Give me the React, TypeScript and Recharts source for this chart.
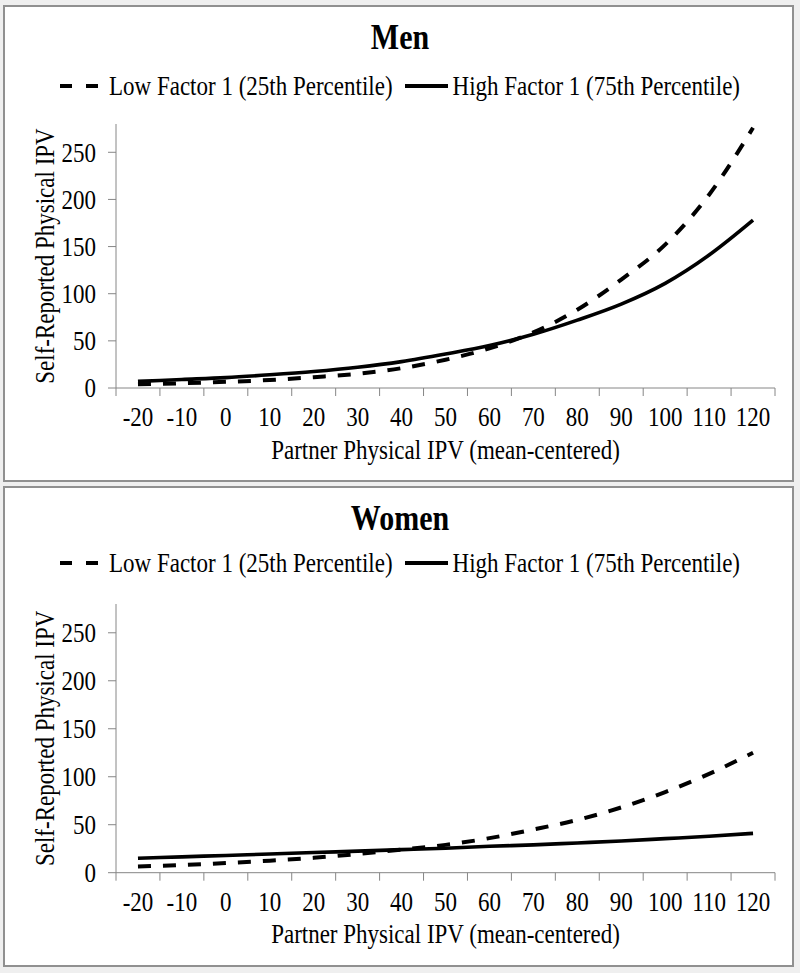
import { Label, Legend, Line, LineChart, XAxis, YAxis } from 'recharts'

const partnerIpv = [-20, -10, 0, 10, 20, 30, 40, 50, 60, 70, 80, 90, 100, 110, 120]
const menLow = [4, 5, 6.5, 8.5, 11.5, 15, 21, 30, 42, 59, 83, 115, 152, 205, 276]
const menHigh = [7, 9, 11, 14, 17.5, 22, 28, 36, 45, 57, 72, 89, 111, 141, 178]
const womenLow = [6.5, 8, 10, 12.5, 15.5, 19.5, 24, 29, 36, 45, 55, 68, 84, 103, 125]
const womenHigh = [15, 16.5, 18, 19.5, 21, 22.5, 24, 25.5, 27.5, 29, 31, 33, 35.5, 38, 41]
const yTicks = [0, 50, 100, 150, 200, 250]
const seriesNames = ['Low Factor 1 (25th Percentile)', 'High Factor 1 (75th Percentile)']

const FONT = '"Liberation Serif", "Times New Roman", serif'
const AXIS = '#868686'
const INK = '#000'
const FS = 23
// the source picture is stretched vertically, so glyphs are taller than wide
const SY = 1.22

// Excel puts the x tick marks between categories, labels at the centres
const step = partnerIpv[1] - partnerIpv[0]
const boundaries = [...partnerIpv.map((v) => v - step / 2), partnerIpv[partnerIpv.length - 1] + step / 2]
const xTicks = [...boundaries, ...partnerIpv].sort((a, b) => a - b)

function XTick(props: any) {
  const { x, y, payload } = props
  if (partnerIpv.includes(payload.value)) {
    return (
      <text transform={`translate(${x},${y + 18}) scale(1,${SY})`} textAnchor="middle" fill={INK} fontSize={FS} fontFamily={FONT}>
        {payload.value}
      </text>
    )
  }
  return <line x1={x} x2={x} y1={y - 20} y2={y - 12} stroke={AXIS} />
}

function YTick(props: any) {
  const { x, y, payload } = props
  return (
    <text transform={`translate(${x},${y + 0.33 * FS * SY}) scale(1,${SY})`} textAnchor="end" fill={INK} fontSize={FS} fontFamily={FONT}>
      {payload.value}
    </text>
  )
}

function LegendBox({ payload }: any) {
  const items = [...(payload || [])].sort((a: any, b: any) => seriesNames.indexOf(a.value) - seriesNames.indexOf(b.value))
  return (
    <div style={{ display: 'flex', justifyContent: 'center', alignItems: 'center', height: 30, fontFamily: FONT, fontSize: FS, color: INK }}>
      {items.map((e: any, i: number) => {
        const dashed = !!e.payload?.strokeDasharray
        const w = dashed ? 38 : 43
        return (
          <div key={i} style={{ display: 'flex', alignItems: 'center', marginLeft: i ? 12 : 0 }}>
            <svg width={w} height={10}>
              <line x1={0} x2={w} y1={5} y2={5} stroke={INK} strokeWidth={4} strokeDasharray={dashed ? '12 14' : undefined} />
            </svg>
            <span style={{ marginLeft: dashed ? 11 : 5, whiteSpace: 'nowrap', display: 'inline-block', transform: `scaleY(${SY})` }}>
              {e.value}
            </span>
          </div>
        )
      })}
    </div>
  )
}

interface PanelProps {
  title: string
  low: number[]
  high: number[]
  top: number
  height: number
  plotTop: number
  plotBottom: number
  legendMid: number
  titleBase: number
}

function Panel({ title, low, high, top, height, plotTop, plotBottom, legendMid, titleBase }: PanelProps) {
  const data = partnerIpv.map((x, i) => ({ x, low: low[i], high: high[i] }))
  const xAxisHeight = 72
  return (
    <div style={{ position: 'absolute', left: 0, top, width: 800, height }}>
      <div
        style={{
          position: 'absolute',
          left: 3,
          top: 0,
          width: 791,
          height,
          boxSizing: 'border-box',
          border: '2px solid #909090',
          background: '#fff',
        }}
      />
      <div style={{ position: 'absolute', left: 0, top: 0 }}>
        <LineChart
          width={800}
          height={height}
          data={data}
          margin={{ top: plotTop, right: 25, bottom: height - plotBottom - xAxisHeight, left: 20 }}
        >
          <XAxis
            dataKey="x"
            type="number"
            domain={[boundaries[0], boundaries[boundaries.length - 1]]}
            ticks={xTicks}
            interval={0}
            height={xAxisHeight}
            tickSize={8}
            tickMargin={12}
            tickLine={false}
            axisLine={{ stroke: AXIS }}
            tick={(p: any) => <XTick {...p} />}
          >
            <Label
              content={(p: any) => {
                const vb = p.viewBox
                return (
                  <text
                    transform={`translate(${vb.x + vb.width / 2},${vb.y + 70.5}) scale(1,${SY})`}
                    textAnchor="middle"
                    fill={INK}
                    fontSize={FS}
                    fontFamily={FONT}
                  >
                    Partner Physical IPV (mean-centered)
                  </text>
                )
              }}
            />
          </XAxis>
          <YAxis
            type="number"
            domain={[0, 280]}
            ticks={yTicks}
            width={96}
            tickSize={8}
            tickMargin={12}
            axisLine={{ stroke: AXIS }}
            tickLine={{ stroke: AXIS }}
            tick={(p: any) => <YTick {...p} />}
          >
            <Label
              content={(p: any) => {
                const vb = p.viewBox
                return (
                  <text
                    transform={`translate(${vb.x + 25},${vb.y + vb.height / 2}) rotate(-90) scale(1,${SY})`}
                    textAnchor="middle"
                    dy="0.33em"
                    fill={INK}
                    fontSize={FS}
                    fontFamily={FONT}
                  >
                    Self-Reported Physical IPV
                  </text>
                )
              }}
            />
          </YAxis>
          <Legend
            verticalAlign="middle"
            align="center"
            layout="horizontal"
            wrapperStyle={{ top: legendMid - 15, left: 0, width: 800 }}
            content={(p: any) => <LegendBox {...p} />}
          />
          <Line
            type="monotone"
            dataKey="low"
            name={seriesNames[0]}
            stroke={INK}
            strokeWidth={4}
            strokeDasharray="13 12"
            dot={false}
            isAnimationActive={false}
          />
          <Line
            type="monotone"
            dataKey="high"
            name={seriesNames[1]}
            stroke={INK}
            strokeWidth={3.6}
            dot={false}
            isAnimationActive={false}
          />
        </LineChart>
      </div>
      <div
        style={{
          position: 'absolute',
          left: 0,
          top: titleBase - 25,
          width: 800,
          textAlign: 'center',
          fontFamily: FONT,
          fontWeight: 'bold',
          fontSize: 30,
          lineHeight: '30px',
          color: INK,
        }}
      >
        <span style={{ display: 'inline-block', transform: `scaleY(${SY})`, transformOrigin: '50% 83%' }}>{title}</span>
      </div>
    </div>
  )
}

export default function App() {
  return (
    <div style={{ position: 'absolute', left: 0, top: 0, width: 800, height: 973, background: '#efefef' }}>
      <Panel
        title="Men"
        low={menLow}
        high={menHigh}
        top={5}
        height={477}
        plotTop={119}
        plotBottom={383}
        legendMid={81}
        titleBase={44}
      />
      <Panel
        title="Women"
        low={womenLow}
        high={womenHigh}
        top={486}
        height={481}
        plotTop={118}
        plotBottom={386.7}
        legendMid={77}
        titleBase={44}
      />
    </div>
  )
}
